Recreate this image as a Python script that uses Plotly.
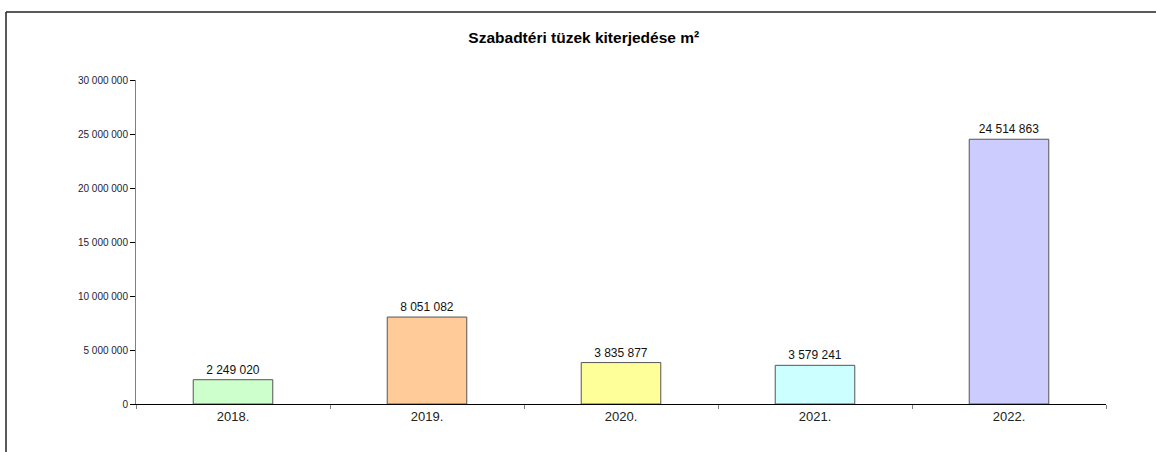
import plotly.graph_objects as go

years = ["2018.", "2019.", "2020.", "2021.", "2022."]
values = [2249020, 8051082, 3835877, 3579241, 24514863]
colors = ["#CCFFCC", "#FFCC99", "#FFFF99", "#CCFFFF", "#CCCCFF"]
y_ticks = [0, 5000000, 10000000, 15000000, 20000000, 25000000, 30000000]

fig = go.Figure()
fig.add_trace(go.Bar(
    x=years, y=values,
    marker=dict(color=colors, line=dict(color="#555555", width=1)),
    texttemplate="%{y:,}", textposition="outside",
    textfont=dict(family="Liberation Sans, Arial, sans-serif", size=12, color="#111111"),
    cliponaxis=False,
    hoverinfo="skip",
))

W, H = 1156, 452
L, R, T, B = 136, 50, 80, 48
pw, ph = W - L - R, H - T - B

def px(x):
    return (x - L) / pw

def py(y):
    return (H - B - y) / ph

fig.update_layout(
    width=W, height=H,
    margin=dict(l=L, r=R, t=T, b=B),
    paper_bgcolor="white", plot_bgcolor="white",
    separators=", ",
    showlegend=False,
    bargap=0.59,
    title=dict(text="<b>Szabadtéri tüzek kiterjedése m²</b>", x=0.505, xref="container",
               y=1 - 38 / H, yanchor="middle",
               font=dict(family="Liberation Sans, Arial, sans-serif", size=15.5, color="#000000")),
    font=dict(family="Liberation Sans, Arial, sans-serif", color="#222222"),
    xaxis=dict(showline=True, linecolor="#000000", linewidth=1, ticks="outside",
               tickson="boundaries", ticklen=4, tickcolor="#808080",
               tickfont=dict(size=13, color="#222222"), showgrid=False),
    yaxis=dict(range=[0, 30000000], tickvals=y_ticks, tickformat=",", showline=True,
               linecolor="#808080", linewidth=1, ticks="outside", ticklen=5,
               tickcolor="#000000", showgrid=False, zeroline=False,
               tickfont=dict(size=10, color="#222233")),
    shapes=[
        dict(type="line", xref="paper", yref="paper", x0=px(6), x1=px(W + 5), y0=py(12), y1=py(12),
             line=dict(color="#222222", width=1.5)),
        dict(type="line", xref="paper", yref="paper", x0=px(6), x1=px(6), y0=py(12), y1=py(H + 5),
             line=dict(color="#222222", width=1.5)),
    ],
)

fig.write_html("out.html", config={"displayModeBar": False},
               post_script="document.body.style.margin='0';document.body.style.overflow='hidden';")
